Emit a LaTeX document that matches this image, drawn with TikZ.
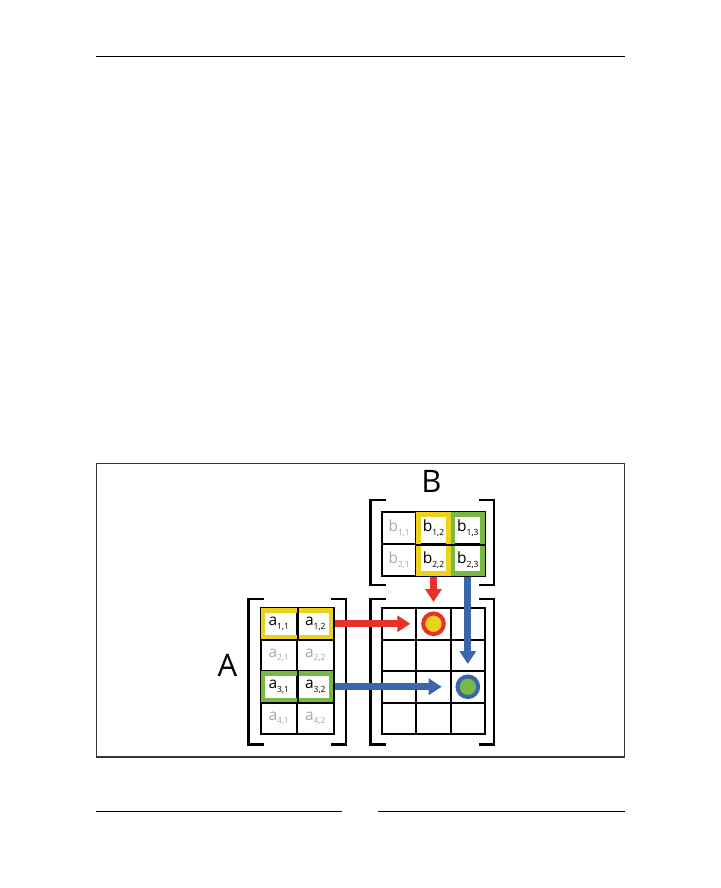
\documentclass[tikz,border=0pt]{standalone}
\usepackage{fontspec}
\setmainfont{Open Sans}
\usetikzlibrary{arrows.meta,calc}
\definecolor{myred}{HTML}{E8312A}
\definecolor{myblue}{HTML}{3A67A9}
\definecolor{myyellow}{HTML}{EDD21C}
\definecolor{mygreen}{HTML}{78B943}
\definecolor{mygray}{HTML}{A8A8A8}
\definecolor{framegray}{HTML}{35343F}
\newcommand{\ent}[3]{{\fontsize{15.5}{15.5}\selectfont #1}\raisebox{-3.5pt}{\fontsize{8.5}{8.5}\selectfont #2,#3}}
\begin{document}
\begin{tikzpicture}[x=1pt,y=-1pt,
  cellbase/.style={draw=black, line width=2pt, inner sep=0pt, anchor=center},
  cellA/.style={cellbase, minimum width=36.5pt, minimum height=31.5pt},
  cellB/.style={cellbase, minimum width=34.33pt, minimum height=32pt},
  cellC/.style={cellbase, minimum width=34.33pt, minimum height=31.5pt},
  hl/.style={line width=4.6pt},
  divider/.style={line width=2pt},
  bracket/.style={line width=2.5pt, line cap=butt},
  redarr/.style={myred, line width=7pt, -{Triangle[length=13pt,width=16pt]}},
  bluearr/.style={myblue, line width=7pt, -{Triangle[length=13pt,width=16pt]}},
  dot/.style={circle, line width=4pt, minimum size=20.6pt, inner sep=0pt},
  biglabel/.style={font=\fontsize{31}{31}\selectfont, inner sep=0pt}
]
\useasboundingbox (0,0) rectangle (720,888);
\fill[white] (0,0) rectangle (720,888);
% page rules and frame
\draw[line width=1pt] (96,57) -- (625,57);
\draw[line width=1pt] (96,811) -- (342,811);
\draw[line width=1pt] (378,811) -- (625,811);
\draw[framegray, line width=1.2pt] (96.5,463.5) rectangle (624.5,757);

% A: 4x2
\foreach \r/\y/\col in {1/623.75/black, 2/655.25/mygray, 3/686.75/black, 4/718.25/mygray}{
  \node[cellA, text=\col] (a\r1) at (278.75,\y) {\ent{a}{\r}{1}};
  \node[cellA, text=\col] (a\r2) at (315.25,\y) {\ent{a}{\r}{2}};
}
% B: 2x3
\foreach \c/\x/\col in {1/399.17/mygray, 2/433.5/black, 3/467.83/black}{
  \node[cellB, text=\col] (b1\c) at (\x,528) {\ent{b}{1}{\c}};
  \node[cellB, text=\col] (b2\c) at (\x,560) {\ent{b}{2}{\c}};
}
% C: 4x3
\foreach \r/\y in {1/623.75, 2/655.25, 3/686.75, 4/718.25}{
  \foreach \c/\x in {1/399.17, 2/433.5, 3/467.83}{
    \node[cellC] (c\r\c) at (\x,\y) {};
  }
}

% highlights
\draw[hl, myyellow] ($(a11.north west)+(3.4,3.4)$) rectangle ($(a12.south east)+(-3.4,-3.4)$);
\draw[hl, mygreen] ($(a31.north west)+(3.4,3.4)$) rectangle ($(a32.south east)+(-3.4,-3.4)$);
\draw[hl, myyellow] ($(b12.north west)+(3.4,3.4)$) rectangle ($(b22.south east)+(-3.4,-3.4)$);
\draw[hl, mygreen] ($(b13.north west)+(3.4,3.4)$) rectangle ($(b23.south east)+(-3.4,-3.4)$);

% internal dividers over the highlights
\draw[divider] (a11.north east) -- (a11.south east);
\draw[divider] (a31.north east) -- (a31.south east);
\draw[divider] (b12.south west) -- (b12.south east);
\draw[divider] (b13.south west) -- (b13.south east);

% brackets
\draw[bracket] ($(a11.north west)+(4,-8)$) -- ($(a11.north west)+(-11,-8)$) -- ($(a41.south west)+(-11,9.5)$) -- ($(a41.south west)+(4,9.5)$);
\draw[bracket] ($(a12.north east)+(-4,-8)$) -- ($(a12.north east)+(11.5,-8)$) -- ($(a42.south east)+(11.5,9.5)$) -- ($(a42.south east)+(-4,9.5)$);
\draw[bracket] ($(b11.north west)+(5,-11)$) -- ($(b11.north west)+(-10.5,-11)$) -- ($(b21.south west)+(-10.5,8.2)$) -- ($(b21.south west)+(5,8.2)$);
\draw[bracket] ($(b13.north east)+(-7,-11)$) -- ($(b13.north east)+(8.2,-11)$) -- ($(b23.south east)+(8.2,8.2)$) -- ($(b23.south east)+(-7,8.2)$);
\draw[bracket] ($(c11.north west)+(5,-8)$) -- ($(c11.north west)+(-10.5,-8)$) -- ($(c41.south west)+(-10.5,9.5)$) -- ($(c41.south west)+(5,9.5)$);
\draw[bracket] ($(c13.north east)+(-7,-8)$) -- ($(c13.north east)+(8.2,-8)$) -- ($(c43.south east)+(8.2,9.5)$) -- ($(c43.south east)+(-7,9.5)$);

% labels
\node[biglabel] (labA) at (227.5,665.5) {A};
\node[biglabel] (labB) at (431.5,481) {B};

% arrows
\draw[redarr] (a12.east) -- ($(c12.west)+(-5,0)$);
\draw[redarr] (b22.south) -- ($(c12.north)+(0,-5)$);
\draw[bluearr] (b23.south) -- ($(c33.north)+(0,-6)$);
\draw[bluearr] (a32.east) -- ($(c33.west)+(-8,0)$);

% result dots
\node[dot, draw=myred, fill=myyellow] (d1) at (c12.center) {};
\node[dot, draw=myblue, fill=mygreen] (d2) at (c33.center) {};
\end{tikzpicture}
\end{document}
